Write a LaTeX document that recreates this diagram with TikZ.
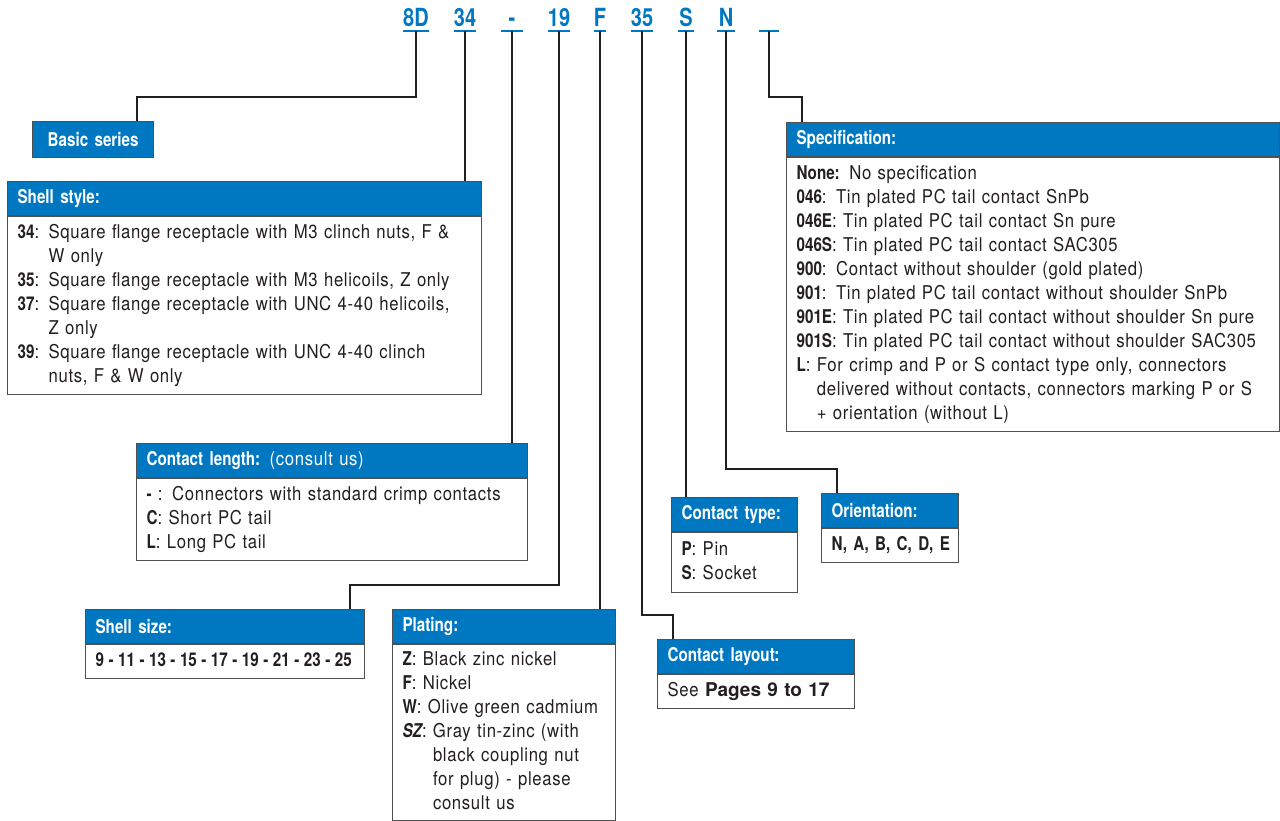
\documentclass[tikz,border=0pt]{standalone}
\usepackage{fontspec}
\setmainfont{TeX Gyre Heros}[FakeStretch=0.88,LetterSpace=3.5]
\newfontfamily\hdrfamily{TeX Gyre Heros}[FakeStretch=0.8]
\newfontfamily\widefamily{TeX Gyre Heros}
\definecolor{codeblue}{RGB}{0,120,193}
\definecolor{rulegray}{RGB}{80,80,80}
\definecolor{inkdark}{RGB}{35,31,32}
\newcommand{\boxlines}[1]{\begin{tabular}{@{}l@{}}#1\end{tabular}}
\newcommand{\lbl}[1]{{\hdrfamily\bfseries #1}}
\newcommand{\sizesep}{\hspace{4.5pt}-\hspace{4.5pt}}
\begin{document}
\begin{tikzpicture}[x=1pt,y=-1pt,
    code/.style={text=codeblue,font=\hdrfamily\bfseries\fontsize{25}{25}\selectfont,
      inner xsep=0pt,inner ysep=4pt,text depth=0pt,anchor=south},
    codeline/.style={draw=codeblue,line width=1.6pt},
    hdr/.style={fill=codeblue,draw=rulegray,line width=1.2pt,text=white,
      font=\hdrfamily\bfseries\fontsize{19}{22}\selectfont,anchor=north west,
      minimum height=34pt,align=left,inner xsep=10pt,inner ysep=0pt},
    bodybox/.style={draw=rulegray,line width=1.2pt,fill=white,text=inkdark,
      font=\fontsize{19}{24}\selectfont,anchor=north west,align=left,
      inner xsep=10pt,inner ysep=0pt},
    link/.style={draw=inkdark,line width=1.3pt}]
  \useasboundingbox (0,0) rectangle (1280,821);
  \foreach \n/\txt/\x/\w in {c8D/8D/416/0,c34/34/465/0,cdash/-/512/21,c19/19/559/0,
      cF/F/600/12,c35/35/642/0,cS/S/686/16,cN/N/726/17,cblank//769/20}{
    \node[code,minimum width=\w pt] (\n) at (\x,31) {\txt};
    \draw[codeline] (\n.south west) -- (\n.south east);
  }
  \node[hdr,align=center,text width=101pt,minimum height=36pt] (basic) at (32,121) {Basic series};
  \node[hdr,text width=454pt] (shellH) at (7,181) {Shell style:};
  \node[bodybox,text width=454pt,minimum height=178pt] (shell) at (shellH.south west)
    {\boxlines{\lbl{34}: Square flange receptacle with M3 clinch nuts, F \&\\
      \phantom{\lbl{34}: }W only\\
      \lbl{35}: Square flange receptacle with M3 helicoils, Z only\\
      \lbl{37}: Square flange receptacle with UNC 4-40 helicoils,\\
      \phantom{\lbl{37}: }Z only\\
      \lbl{39}: Square flange receptacle with UNC 4-40 clinch\\
      \phantom{\lbl{39}: }nuts, F \& W only}};
  \node[hdr,text width=473pt] (specH) at (786,122) {Specification:};
  \node[bodybox,text width=473pt,minimum height=274pt] (spec) at (specH.south west)
    {\boxlines{\lbl{None:} No specification\\
      \lbl{046}: Tin plated PC tail contact SnPb\\
      \lbl{046E}: Tin plated PC tail contact Sn pure\\
      \lbl{046S}: Tin plated PC tail contact SAC305\\
      \lbl{900}: Contact without shoulder (gold plated)\\
      \lbl{901}: Tin plated PC tail contact without shoulder SnPb\\
      \lbl{901E}: Tin plated PC tail contact without shoulder Sn pure\\
      \lbl{901S}: Tin plated PC tail contact without shoulder SAC305\\
      \lbl{L}: For crimp and P or S contact type only, connectors\\
      \phantom{\lbl{L}: }delivered without contacts, connectors marking P or S\\
      \phantom{\lbl{L}: }+ orientation (without L)}};
  \node[hdr,text width=371pt] (lenH) at (136,443) {Contact length: {\normalfont (consult us)}};
  \node[bodybox,text width=371pt,minimum height=82pt] (len) at (lenH.south west)
    {\boxlines{\lbl{-} : Connectors with standard crimp contacts\\
      \lbl{C}: Short PC tail\\
      \lbl{L}: Long PC tail}};
  \node[hdr,text width=106pt] (typeH) at (671,497) {Contact type:};
  \node[bodybox,text width=106pt,minimum height=60pt] (type) at (typeH.south west)
    {\boxlines{\lbl{P}: Pin\\ \lbl{S}: Socket}};
  \node[hdr,text width=117pt] (orientH) at (821,493) {Orientation:};
  \node[bodybox,text width=117pt,minimum height=34pt] (orient) at (orientH.south west)
    {\boxlines{\lbl{N, A, B, C, D, E}}};
  \node[hdr,text width=177pt] (layoutH) at (657,639) {Contact layout:};
  \node[bodybox,text width=177pt,minimum height=34pt] (layout) at (layoutH.south west)
    {\boxlines{See {\widefamily\bfseries Pages 9 to 17}}};
  \node[hdr,text width=259pt] (sizeH) at (85,609) {Shell size:};
  \node[bodybox,text width=259pt,minimum height=34pt] (size) at (sizeH.south west)
    {\boxlines{\lbl{9\sizesep 11\sizesep 13\sizesep 15\sizesep 17\sizesep 19\sizesep 21\sizesep 23\sizesep 25}}};
  \node[hdr,text width=203pt] (platH) at (392,609) {Plating:};
  \node[bodybox,text width=203pt,minimum height=176pt] (plat) at (platH.south west)
    {\boxlines{\lbl{Z}: Black zinc nickel\\
      \lbl{F}: Nickel\\
      \lbl{W}: Olive green cadmium\\
      \lbl{\itshape SZ}: Gray tin-zinc (with\\
      \phantom{\lbl{SZ}: }black coupling nut\\
      \phantom{\lbl{SZ}: }for plug) - please\\
      \phantom{\lbl{SZ}: }consult us}};
  \draw[link] (c8D.south) -- (c8D.south |- 0,97) -| ([xshift=105pt]basic.north west);
  \draw[link] (c34.south) -- (c34.south |- shellH.north);
  \draw[link] (cdash.south) -- (cdash.south |- lenH.north);
  \draw[link] (c19.south) -- (c19.south |- 0,585) -| ([xshift=265pt]sizeH.north west);
  \draw[link] (cF.south) -- (cF.south |- platH.north);
  \draw[link] (c35.south) -- (c35.south |- 0,615) -| ([xshift=16pt]layoutH.north west);
  \draw[link] (cS.south) -- (cS.south |- typeH.north);
  \draw[link] (cN.south) -- (cN.south |- 0,469) -| ([xshift=16pt]orientH.north west);
  \draw[link] (cblank.south) -- (cblank.south |- 0,97) -| ([xshift=16pt]specH.north west);
\end{tikzpicture}
\end{document}
